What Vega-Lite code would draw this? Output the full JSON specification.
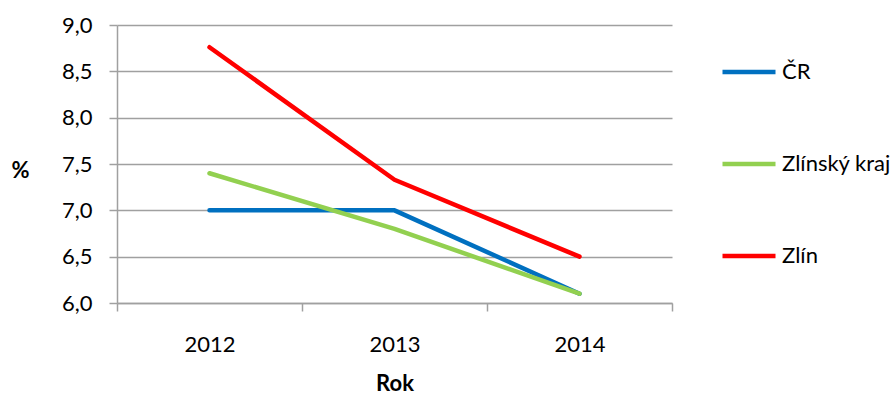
{
  "$schema": "https://vega.github.io/schema/vega-lite/v6.json",
  "width": 555,
  "height": 278,
  "autosize": {"type": "none"},
  "padding": {"left": 117, "top": 25, "right": 224, "bottom": 91},
  "background": "white",
  "config": {
    "font": "Lato",
    "view": {"stroke": null},
    "axis": {
      "labelFont": "Lato",
      "labelFontSize": 22,
      "labelColor": "#000000",
      "titleFont": "Lato",
      "titleFontSize": 22,
      "titleFontWeight": "bold",
      "titleColor": "#000000",
      "domainColor": "#a0a0a0",
      "tickColor": "#a0a0a0",
      "gridColor": "#a0a0a0",
      "domainWidth": 1.5,
      "tickWidth": 1.5,
      "gridWidth": 1.5
    },
    "legend": {
      "labelFont": "Lato",
      "labelFontSize": 22,
      "labelColor": "#000000"
    }
  },
  "data": {
    "values": [
      {"rok": "2012", "rada": "ČR", "hodnota": 7.0},
      {"rok": "2013", "rada": "ČR", "hodnota": 7.0},
      {"rok": "2014", "rada": "ČR", "hodnota": 6.1},
      {"rok": "2012", "rada": "Zlínský kraj", "hodnota": 7.4},
      {"rok": "2013", "rada": "Zlínský kraj", "hodnota": 6.8},
      {"rok": "2014", "rada": "Zlínský kraj", "hodnota": 6.1},
      {"rok": "2012", "rada": "Zlín", "hodnota": 8.76},
      {"rok": "2013", "rada": "Zlín", "hodnota": 7.33},
      {"rok": "2014", "rada": "Zlín", "hodnota": 6.5}
    ]
  },
  "mark": {"type": "line", "strokeWidth": 4.5, "strokeCap": "round", "strokeJoin": "round"},
  "encoding": {
    "x": {
      "field": "rok",
      "type": "ordinal",
      "bandPosition": 0.5,
      "scale": {"type": "band", "paddingInner": 0, "paddingOuter": 0},
      "axis": {
        "title": "Rok",
        "titleY": 80,
        "titleBaseline": "middle",
        "labelAngle": 0,
        "tickBand": "extent",
        "tickSize": 8,
        "labelPadding": 23,
        "grid": false
      }
    },
    "y": {
      "field": "hodnota",
      "type": "quantitative",
      "scale": {"domain": [6, 9], "nice": false, "zero": false},
      "axis": {
        "title": "%",
        "titleAngle": 0,
        "titleX": -97,
        "titleY": 145,
        "titleAlign": "center",
        "titleBaseline": "middle",
        "values": [6, 6.5, 7, 7.5, 8, 8.5, 9],
        "labelExpr": "replace(format(datum.value, '.1f'), '.', ',')",
        "tickSize": 8,
        "labelPadding": 17,
        "grid": true
      }
    },
    "color": {
      "field": "rada",
      "type": "nominal",
      "sort": ["ČR", "Zlínský kraj", "Zlín"],
      "scale": {"domain": ["ČR", "Zlínský kraj", "Zlín"], "range": ["#0070C0", "#92D050", "#FF0000"]},
      "legend": {
        "title": null,
        "orient": "none",
        "legendX": 603,
        "legendY": 18,
        "padding": 0,
        "symbolType": "stroke",
        "symbolSize": 2809,
        "symbolStrokeWidth": 4.5,
        "labelOffset": 4,
        "rowPadding": 52
      }
    }
  }
}
